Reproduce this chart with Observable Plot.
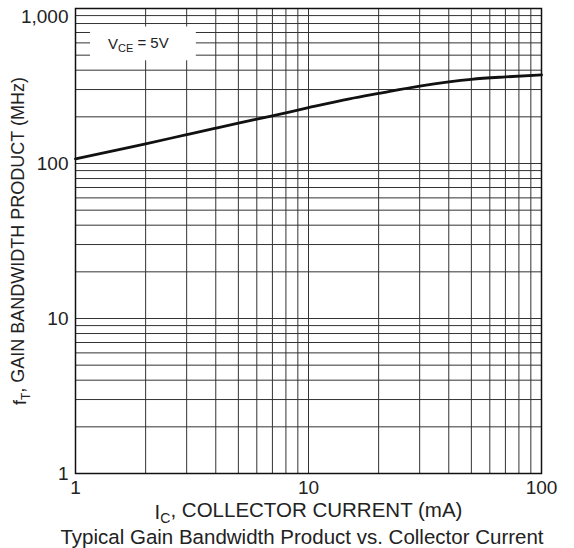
<!DOCTYPE html>
<html>
<head>
<meta charset="utf-8">
<script src="https://cdn.jsdelivr.net/npm/d3@7"></script>
<script src="https://cdn.jsdelivr.net/npm/@observablehq/plot@0.6"></script>
<style>
  html, body { margin: 0; padding: 0; background: #fff; }
  #chart { width: 574px; height: 526px; }
  #caption { font-family: "Liberation Sans", Arial, sans-serif; font-size: 20.5px; line-height: 22px;
             color: #222; text-align: center; width: 544px; padding-left: 30px; white-space: nowrap; }
</style>
</head>
<body>
<div id="chart"></div>
<div id="caption">Typical Gain Bandwidth Product vs. Collector Current</div>
<script>
// Collector current (mA) and gain-bandwidth product (MHz)
const currentMA = [1, 1.5, 2, 3, 4, 5, 7, 10, 15, 20, 30, 40, 50, 70, 100];
const fT_MHz    = [107, 122, 134, 153.5, 169, 182, 203, 229, 261, 283, 316, 336, 349, 362, 373];

// Tick labels and grid values
const xTicks = [1, 10, 100];
const yTicks = [1, 10, 100];
const yTopTick = [1000];
const xGrid = [1, 2, 3, 4, 5, 6, 7, 8, 9, 10, 20, 30, 40, 50, 60, 70, 80, 90, 100];
const yGrid = [1, 2, 3, 4, 5, 6, 7, 8, 9, 10, 20, 30, 40, 50, 60, 70, 80, 90,
               100, 200, 300, 400, 500, 600, 700, 800, 900, 1000];

// Condition annotation (box and text in data coordinates)
const noteBox = [{x1: 1.16, x2: 3.3, y1: 460, y2: 760}];
const noteText = [{x: 1.86, y: 590, label: "VCE = 5V"}];

const data = currentMA.map((c, i) => ({c, f: fT_MHz[i]}));

const font = "'Liberation Sans', Arial, sans-serif";

const svg = Plot.plot({
  width: 574,
  height: 526,
  marginLeft: 75,
  marginRight: 33,
  marginTop: 8,
  marginBottom: 53,
  style: {fontFamily: font, color: "#222", background: "white"},
  x: {type: "log", domain: [1, 100]},
  y: {type: "log", domain: [1, 1000]},
  marks: [
    Plot.ruleX(xGrid, {stroke: "#333", strokeWidth: 1}),
    Plot.ruleY(yGrid, {stroke: "#333", strokeWidth: 1}),
    Plot.rect(noteBox, {x1: "x1", x2: "x2", y1: "y1", y2: "y2", fill: "white"}),
    Plot.text(noteText, {x: "x", y: "y", text: "label", fontSize: 15, fill: "#222", textAnchor: "middle"}),
    Plot.frame({stroke: "#111", strokeWidth: 1.5}),
    Plot.line(data, {x: "c", y: "f", stroke: "#111", strokeWidth: 2.8, curve: "monotone-x"}),
    Plot.axisX({ticks: xTicks, tickFormat: d => String(d), tickSize: 0, tickPadding: 7, fontSize: 19,
                label: "IC, COLLECTOR CURRENT (mA)", labelAnchor: "center", labelArrow: "none", labelOffset: 45}),
    Plot.axisY({ticks: yTicks, tickFormat: d3.format(","), tickSize: 0, tickPadding: 7, fontSize: 19,
                label: "fT, GAIN BANDWIDTH PRODUCT (MHz)", labelAnchor: "center", labelArrow: "none", labelOffset: 62}),
    Plot.axisY({ticks: yTopTick, tickFormat: d3.format(","), tickSize: 0, tickPadding: 7, fontSize: 19, dy: 8, label: null})
  ]
});

// Add subscripts to texts
function subscript(textEl, parts, size) {
  const sel = d3.select(textEl);
  sel.text(null);
  let shifted = false;
  parts.forEach(([str, sub]) => {
    const t = sel.append("tspan").text(str);
    if (sub && !shifted) { t.attr("dy", "0.3em").attr("font-size", size); shifted = true; }
    else if (!sub && shifted) { t.attr("dy", "-0.3em"); shifted = false; }
  });
}
d3.select(svg).selectAll("text").each(function() {
  const s = this.textContent;
  if (s === "VCE = 5V") subscript(this, [["V", false], ["CE", true], [" = 5V", false]], "11px");
  else if (s === "IC, COLLECTOR CURRENT (mA)") {
    d3.select(this).attr("font-size", "20.5px");
    subscript(this, [["I", false], ["C", true], [", COLLECTOR CURRENT (mA)", false]], "14px");
  }
  else if (s === "fT, GAIN BANDWIDTH PRODUCT (MHz)") {
    d3.select(this).attr("font-size", "18px");
    subscript(this, [["f", false], ["T", true], [", GAIN BANDWIDTH PRODUCT (MHz)", false]], "12px");
  }
});

document.getElementById("chart").appendChild(svg);
</script>
</body>
</html>
